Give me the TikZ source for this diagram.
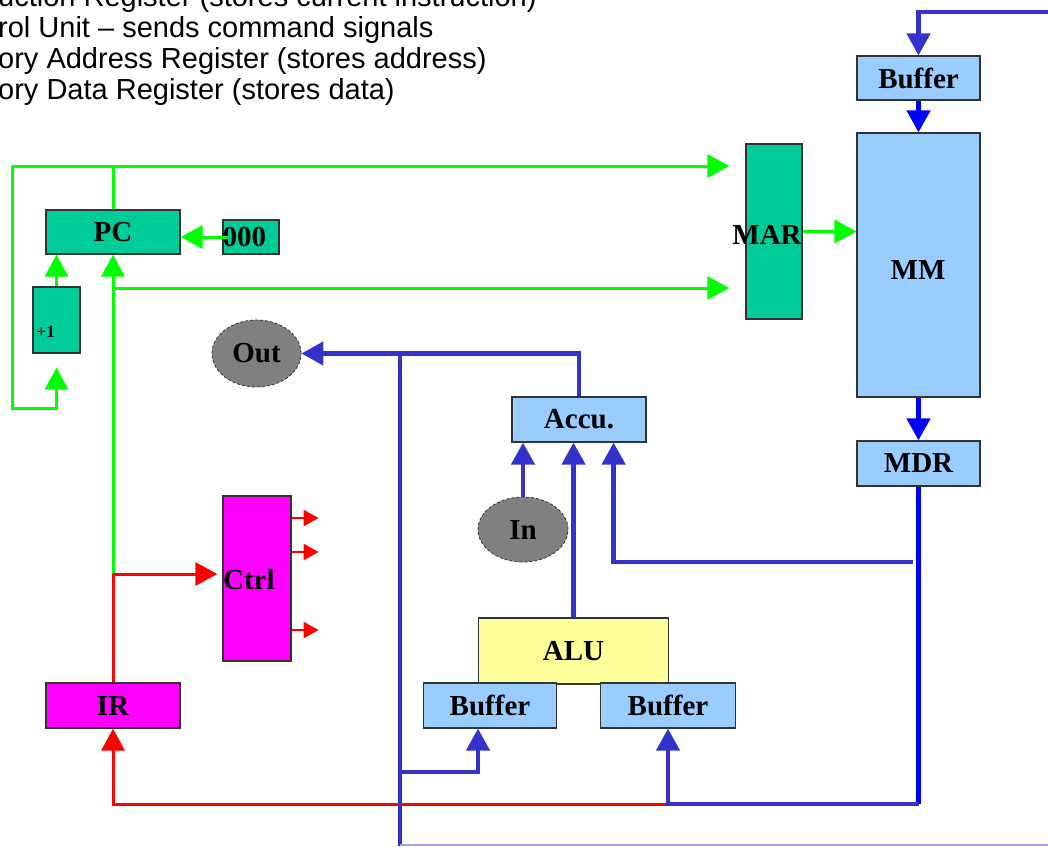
\documentclass[tikz,border=0pt]{standalone}
\usepackage{fontspec}
\setmainfont{Liberation Serif}
\newfontfamily\notefont{Liberation Sans}
\usetikzlibrary{arrows.meta,shapes.geometric}

\definecolor{regteal}{RGB}{0,204,153}
\definecolor{memblue}{RGB}{153,204,255}
\definecolor{busblue}{RGB}{51,51,204}
\definecolor{aluyellow}{RGB}{255,255,153}
\definecolor{ctrlmag}{RGB}{255,0,255}
\definecolor{iogrey}{RGB}{128,128,128}
\definecolor{edgeblue}{RGB}{160,160,235}

\tikzset{
	lbl/.style={font=\fontsize{29}{30}\selectfont\bfseries},
	box/.style={lbl, draw=black!80, line width=1.2pt, inner sep=0pt},
	greg/.style={box, fill=regteal},
	mreg/.style={box, fill=memblue},
	creg/.style={box, fill=ctrlmag},
	io/.style={lbl, ellipse, draw=black!80, densely dashed, line width=0.8pt, fill=iogrey, inner sep=0pt},
	note/.style={anchor=base west, inner sep=0pt, font=\notefont\fontsize{29}{31}\selectfont},
	gwire/.style={draw=green, line width=3pt},
	rwire/.style={draw=red, line width=3pt},
	bwire/.style={draw=busblue, line width=4.5pt},
	mwire/.style={draw=blue, line width=4.5pt},
	tip/.style={-{Triangle[length=22pt,width=23pt]}},
	smalltip/.style={-{Triangle[length=15pt,width=16pt]}}
}

\begin{document}
\begin{tikzpicture}[x=1pt,y=-1pt]
	\useasboundingbox (0,0) rectangle (1048,846);

	% legend lines, cut at the left edge
	\foreach \t [count=\i] in {uction Register (stores current instruction), rol Unit – sends command signals, ory Address Register (stores address), ory Data Register (stores data)}
		\node[note] (note\i) at (-2,{6+31*(\i-1)}) {\t};

	% registers
	\node[greg, minimum width=134pt, minimum height=44pt] (pc) at (113,232) {PC};
	\node[greg, minimum width=56pt, minimum height=34pt] (zero) at (251,237) {};
	\node[lbl, anchor=west, inner sep=0pt] (zerolbl) at (zero.west) {000};
	\node[greg, minimum width=47pt, minimum height=66pt] (plus) at (56.5,320) {};
	\node[anchor=west, inner sep=0pt, font=\fontsize{17}{18}\selectfont\bfseries] (pluslbl) at ([shift={(4,12)}]plus.west) {+1};
	\node[greg, minimum width=56pt, minimum height=175pt] (mar) at (774,231.5) {};
	\node[lbl] (marlbl) at (767,235) {MAR};

	\node[mreg, minimum width=123pt, minimum height=44pt] (buftop) at (918.5,78) {Buffer};
	\node[mreg, minimum width=123pt, minimum height=264pt] (mm) at (918.5,265) {};
	\node[lbl] (mmlbl) at (918,270) {MM};
	\node[mreg, minimum width=123pt, minimum height=45pt] (mdr) at (918.5,463.5) {MDR};
	\node[mreg, minimum width=134pt, minimum height=45pt] (accu) at (579,419.5) {Accu.};

	\node[io, minimum width=89pt, minimum height=67pt] (out) at (256.5,353.5) {Out};
	\node[io, minimum width=90pt, minimum height=65pt] (in) at (523,529.5) {In};

	\node[creg, minimum width=68pt, minimum height=165pt] (ctrl) at (257,578.5) {};
	\node[lbl, anchor=west, inner sep=0pt] (ctrllbl) at (223,580) {Ctrl};
	\node[creg, minimum width=134pt, minimum height=45pt] (ir) at (113,705.5) {IR};

	\node[box, fill=aluyellow, minimum width=190pt, minimum height=66pt] (alu) at (573.5,651) {ALU};
	\node[mreg, minimum width=133pt, minimum height=45pt] (bufl) at (490,705.5) {Buffer};
	\node[mreg, minimum width=135pt, minimum height=45pt] (bufr) at (668,705.5) {Buffer};

	% green: address path
	\coordinate (ga) at (12,166);
	\coordinate (gb) at (12,408);
	\coordinate (gc) at (113,574);
	\coordinate (gd) at (113,288);
	\draw[gwire] (pc.north) -- (pc.north |- ga);
	\draw[gwire, tip, shorten >=16pt] (ga) -- (ga -| mar.west);
	\draw[gwire, tip, shorten >=14pt] (ga) -- (gb) -| (plus.south);
	\draw[gwire, tip] (plus.north) -- (plus.north |- pc.south);
	\draw[gwire, tip] (gc) -- (gc |- pc.south);
	\draw[gwire, tip, shorten >=16pt] (gd) -- (gd -| mar.west);
	\draw[gwire, tip] ([xshift=6pt]zero.west) -- (zero.west -| pc.east);
	\draw[gwire, tip] (mar.east) -- (mar.east -| mm.west);

	% red: control
	\coordinate (rb) at (668,804);
	\draw[rwire] (ir.north) -- (gc);
	\draw[rwire, tip, shorten >=5pt] (gc) -- (gc -| ctrl.west);
	\foreach \y in {518,552,630}{
		\coordinate (cy) at (0,\y);
		\draw[draw=red, line width=2pt, smalltip] (cy -| ctrl.east) -- ++(27,0);
	}
	\draw[rwire, tip] (rb) -| (ir.south);

	% blue: data bus
	\coordinate (bt) at (1048,12);
	\coordinate (bus) at (400,352);
	\coordinate (bend) at (400,846);
	\coordinate (mb) at (913,562);
	\coordinate (lb) at (400,772);
	\draw[bwire, tip] (bt) -| (buftop.north);
	\draw[mwire, tip] (buftop.south) -- (mm.north);
	\draw[mwire, tip] (mm.south) -- (mdr.north);
	\draw[mwire] (mdr.south) -- (mdr.south |- rb);
	\draw[bwire, tip] (mdr.south |- rb) -- (rb) -- (bufr.south);
	\draw[bwire, tip] (mb) -| ([xshift=-33pt]accu.south east);
	\draw[bwire, tip] (in.north) -- (in.north |- accu.south);
	\draw[bwire, tip] (alu.north) -- (alu.north |- accu.south);
	\draw[bwire, tip] (accu.north) |- (out.east);
	\draw[bwire] (bus) -- (bend);
	\draw[bwire, tip] (lb) -| ([xshift=-12pt]bufl.south);
	\draw[edgeblue, line width=1.5pt] (400,845) -- (1048,845);
\end{tikzpicture}
\end{document}
